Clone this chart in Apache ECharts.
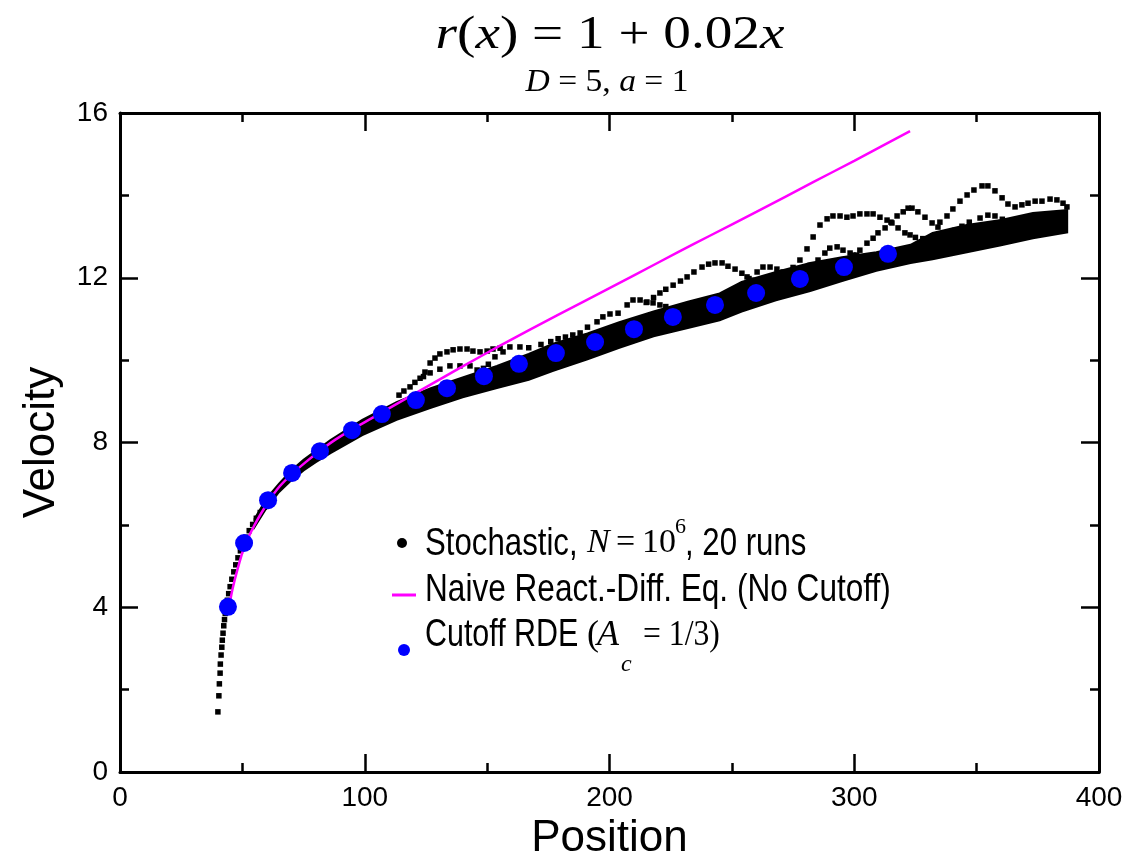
<!DOCTYPE html>
<html><head><meta charset="utf-8">
<script src="https://cdn.jsdelivr.net/npm/echarts@6/dist/echarts.min.js"></script>
<style>html,body{margin:0;padding:0;background:#fff}#c{width:1129px;height:855px}</style>
</head><body><div id="c"></div>
<script>
// ---- data ----
const xTickLabels = ['0','100','200','300','400'];
const yTickLabels = ['0','4','8','12','16'];

// Cutoff RDE (A_c = 1/3) blue points [position, velocity]
const cutoffRDE = [[44.1,4.01],[50.7,5.56],[60.5,6.60],[70.3,7.26],[81.7,7.79],[94.8,8.30],[107.0,8.69],[120.9,9.03],[133.6,9.32],[148.7,9.61],[163.0,9.91],[178.1,10.17],[194.1,10.44],[210.0,10.75],[225.9,11.05],[243.1,11.34],[259.9,11.63],[277.8,11.97],[295.8,12.26],[313.8,12.58]];

// Naive reaction-diffusion equation (no cutoff), magenta curve
const naiveRDE = [[44.5,4.0],[46,4.45],[48,4.92],[50.7,5.45],[55,6.0],[60.5,6.55],[65,6.92],[70.3,7.24],[76,7.53],[81.7,7.8],[88,8.07],[94.8,8.32],[107,8.73],[117,9.07],[126.7,9.40],[140,9.85],[155.3,10.35],[167.5,10.74],[190,11.44],[210,12.06],[228,12.62],[241,13.02],[260,13.60],[283.2,14.32],[300,14.84],[322.8,15.56]];

// Stochastic runs: dense band (lower / upper envelope of the 20 runs)
const bandX     = [55,60,65,70,75,80,86,99,113,127,140,154,167,177,191,204,218,232,245,254,268,282,295,309,323,332,346,360,373,387];
const bandLower = [5.95,6.42,6.80,7.08,7.32,7.52,7.74,8.18,8.55,8.84,9.10,9.32,9.52,9.74,10.02,10.30,10.58,10.78,10.97,11.18,11.45,11.68,11.92,12.17,12.36,12.45,12.62,12.79,12.96,13.10];
const bandUpper = [6.15,6.65,7.00,7.32,7.58,7.80,8.06,8.55,8.98,9.32,9.58,9.86,10.15,10.40,10.65,10.92,11.18,11.42,11.62,11.90,12.14,12.36,12.50,12.62,12.80,13.09,13.28,13.40,13.57,13.64];

// Stochastic runs: early part and the runs that leave the band
const runEarly = [[40.0,1.46],[40.4,1.85],[40.6,2.14],[40.9,2.40],[41.0,2.62],[41.3,2.84],[41.6,3.03],[41.8,3.20],[42.1,3.37],[42.4,3.55],[42.7,3.70],[43.0,3.85],[43.4,4.0],[43.9,4.17],[44.4,4.33],[45.0,4.5],[45.7,4.68],[46.5,4.86],[47.3,5.03],[48.2,5.2],[49.2,5.37],[50.3,5.53],[51.5,5.7],[52.8,5.86],[54.2,6.01],[55.7,6.16],[57.3,6.3],[59,6.43],[60.8,6.56],[62.6,6.68]];
const runA  = [[114,9.15],[116,9.25],[118.5,9.35],[120.5,9.46],[122.6,9.56],[124.6,9.71],[126.7,9.93],[128.7,10.05],[130.7,10.15],[133.6,10.20],[136.1,10.25],[138.9,10.27],[141.8,10.27],[144.2,10.22],[147.1,10.20],[150,10.22],[152.4,10.27],[155.3,10.29],[159.3,10.32],[163.4,10.32],[167,10.3]];
const runA2 = [[124,9.6],[126.7,9.69],[130.7,9.78],[134.8,9.86],[138.9,9.86],[143,9.86],[145.9,9.76],[148.5,9.8],[150.5,9.9],[153.2,10.08],[156.5,10.20]];
const runB2 = [[172,10.38],[176,10.45],[179,10.52],[182,10.56],[185,10.61],[188,10.66]];
const runB  = [[191,10.8],[194.9,10.93],[197.3,11.05],[200.2,11.12],[203.5,11.14],[207.2,11.34],[209.6,11.46],[212.5,11.46],[215.3,11.41],[217.8,11.39],[220.6,11.34],[223,11.3]];
const runC  = [[215,11.4],[218,11.52],[220.6,11.63],[223,11.72],[226,11.82],[229,11.92],[231.7,12.02],[234.5,12.14],[237.8,12.26],[240.5,12.33],[243.1,12.36],[246,12.36],[248.4,12.28],[251.3,12.21],[254.1,12.11],[256.2,12.02],[258.2,11.94]];
const runC2 = [[257,11.98],[260.3,12.14],[262.7,12.26],[265.6,12.26],[268.4,12.21],[270.9,12.14],[273.5,12.1]];
const runD  = [[272,12.1],[275,12.25],[277.8,12.43],[280.7,12.70],[283.2,12.99],[286,13.28],[288.9,13.43],[291.3,13.50],[294.2,13.50],[297,13.47],[299.5,13.50],[302.3,13.55],[305.2,13.55],[307.7,13.55],[310.5,13.47],[313.4,13.40],[315.4,13.33],[317.9,13.21],[320.7,13.09],[322.8,13.04],[325,12.98],[328,12.95]];
const runD2 = [[282,12.3],[285.2,12.43],[288,12.60],[290,12.72],[293,12.75],[295.4,12.67],[298.3,12.60],[301,12.55]];
const runE  = [[299.5,12.55],[302.3,12.67],[305.2,12.84],[307.7,12.96],[309.7,13.09],[312.6,13.21],[315,13.35],[317.5,13.50],[320,13.60],[322,13.69],[323.6,13.69],[326,13.60],[328.9,13.47],[331.8,13.33],[334.2,13.23]];
const runF  = [[335,13.35],[337.9,13.50],[340.3,13.67],[343.2,13.86],[346.1,14.01],[348.9,14.13],[352.2,14.23],[354.6,14.23],[357.5,14.11],[360.4,13.94],[362.8,13.79],[365.7,13.72],[368.5,13.77],[371,13.81],[373.9,13.86],[376.7,13.86],[380,13.91],[382.8,13.89],[385.3,13.81],[386.9,13.72]];
const runH  = [[341,13.15],[344,13.25],[347,13.35],[351.4,13.45],[354.6,13.52],[357.5,13.50],[360.5,13.42],[363.5,13.35]];
const stochRuns = [runEarly, runA, runA2, runB2, runB, runC, runC2, runD, runD2, runE, runF, runH];

// ---- chart ----
const chart = echarts.init(document.getElementById('c'), null, {renderer:'canvas'});
const SANS = 'Liberation Sans, Arial, sans-serif';
const SERIF = 'Liberation Serif, Times New Roman, serif';

function axisCommon(showLabel){
  return {
    axisLine:{show:true, onZero:false, lineStyle:{color:'#000', width:3}},
    axisTick:{show:true, inside:true, length:18, lineStyle:{color:'#000', width:2.5}},
    minorTick:{show:true, splitNumber:2, length:9, lineStyle:{color:'#000', width:2.5}},
    splitLine:{show:false}, minorSplitLine:{show:false},
    axisLabel:{show:showLabel, color:'#000', fontSize:28, fontFamily:SANS, margin:12}
  };
}

const series = [];
series.push({
  type:'custom', name:'Stochastic band', xAxisIndex:0, yAxisIndex:0, silent:true, z:2,
  data:[[bandX[0], bandLower[0]]],
  renderItem:function(params, api){
    const pts=[];
    for(let i=0;i<bandX.length;i++) pts.push(api.coord([bandX[i], bandLower[i]]));
    for(let i=bandX.length-1;i>=0;i--) pts.push(api.coord([bandX[i], bandUpper[i]]));
    return {type:'polygon', shape:{points:pts}, style:{fill:'#000', stroke:'#000', lineWidth:2}};
  }
});
stochRuns.forEach(function(run){
  series.push({type:'scatter', name:'Stochastic', data:run, symbol:'rect', symbolSize:5.5,
    itemStyle:{color:'#000', opacity:1}, z:3, silent:true});
});
series.push({type:'line', name:'Naive', data:naiveRDE, smooth:0.2, showSymbol:false, symbol:'none',
  lineStyle:{color:'#ff00ff', width:2.5}, z:4, silent:true});
series.push({type:'scatter', name:'Cutoff RDE', data:cutoffRDE, symbol:'circle', symbolSize:18,
  itemStyle:{color:'#0000ff', opacity:1}, z:5, silent:true});

const gtext = (x,y,text,font,opt) => Object.assign({type:'text', x:x, y:y, z:10, silent:true,
  style:Object.assign({text:text, font:font, fill:'#000', align:'left', verticalAlign:'middle'}, opt && opt.style || {})},
  opt && opt.el || {});

const option = {
  animation:false,
  backgroundColor:'#fff',
  grid:{left:120, right:30, top:113, bottom:83, containLabel:false, outerBoundsMode:'none'},
  xAxis:[
    Object.assign({type:'value', min:0, max:400, interval:100, position:'bottom',
      name:'Position', nameLocation:'middle', nameGap:40,
      nameTextStyle:{color:'#000', fontSize:44, fontFamily:SANS}}, axisCommon(true)),
    Object.assign({type:'value', min:0, max:400, interval:100, position:'top'}, axisCommon(false))
  ],
  yAxis:[
    Object.assign({type:'value', min:0, max:16, interval:4, position:'left',
      name:'Velocity', nameLocation:'middle', nameGap:56, nameRotate:90,
      nameTextStyle:{color:'#000', fontSize:44, fontFamily:SANS}}, axisCommon(true)),
    Object.assign({type:'value', min:0, max:16, interval:4, position:'right'}, axisCommon(false))
  ],
  series:series,
  graphic:[
    // title
    {type:'text', x:610, y:36, z:10, scaleX:1.2, silent:true, style:{
      text:'{i|r}{n|(}{i|x}{n|) = 1 + 0.02}{i|x}', align:'center', verticalAlign:'middle', fill:'#000',
      font:'46px '+SERIF,
      rich:{i:{fontStyle:'italic', fontSize:46, fontFamily:SERIF, fill:'#000'}, n:{fontSize:46, fontFamily:SERIF, fill:'#000'}}}},
    {type:'text', x:607, y:83, z:10, scaleX:1.05, silent:true, style:{
      text:'{i|D}{n| = 5, }{i|a}{n| = 1}', align:'center', verticalAlign:'middle', fill:'#000',
      font:'32px '+SERIF,
      rich:{i:{fontStyle:'italic', fontSize:32, fontFamily:SERIF, fill:'#000'}, n:{fontSize:32, fontFamily:SERIF, fill:'#000'}}}},
    // legend row 1
    {type:'circle', shape:{cx:402, cy:543, r:5}, style:{fill:'#000'}, z:10, silent:true},
    gtext(425,544,'Stochastic,','39px '+SANS,{el:{scaleX:0.8}}),
    gtext(587,543,'N','italic 34px '+SERIF),
    gtext(616,543,'=','34px '+SERIF),
    gtext(642,543,'10','34px '+SERIF),
    gtext(675,527,'6','22px '+SERIF),
    gtext(685,544,', 20 runs','39px '+SANS,{el:{scaleX:0.8}}),
    // legend row 2
    {type:'line', shape:{x1:392, y1:595, x2:416, y2:595}, style:{stroke:'#ff00ff', lineWidth:3}, z:10, silent:true},
    gtext(425,590,'Naive React.-Diff. Eq. (No Cutoff)','39px '+SANS,{el:{scaleX:0.81}}),
    // legend row 3
    {type:'circle', shape:{cx:404, cy:650, r:6}, style:{fill:'#0000ff'}, z:10, silent:true},
    gtext(425,635,'Cutoff RDE','39px '+SANS,{el:{scaleX:0.78}}),
    gtext(587,636,'(','36px '+SERIF),
    gtext(597,636,'A','italic 36px '+SERIF),
    gtext(621,665,'c','italic 24px '+SERIF),
    gtext(643,636,'= 1/3)','36px '+SERIF,{el:{scaleX:0.88}})
  ]
};
chart.setOption(option);
</script></body></html>
